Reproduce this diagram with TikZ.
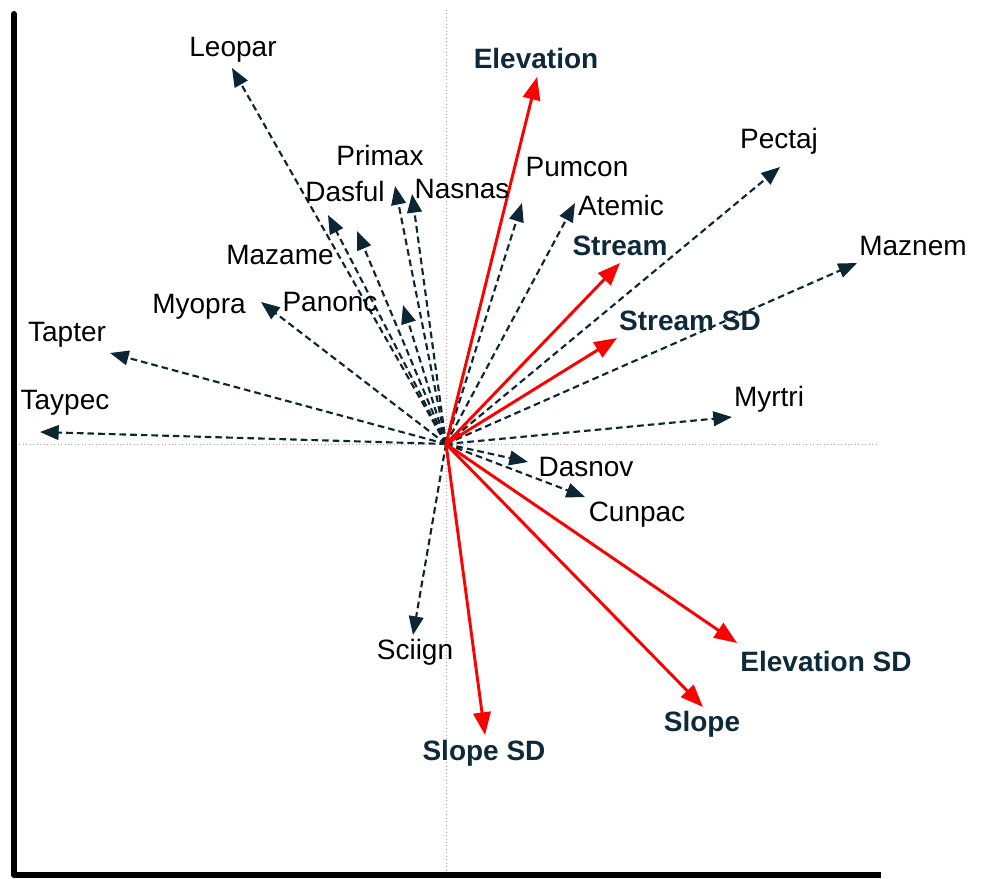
\documentclass[tikz,border=0pt]{standalone}
\usepackage{fontspec}
\setmainfont{Liberation Sans}
\usetikzlibrary{arrows.meta}
\definecolor{navy}{HTML}{0D2633}
\definecolor{lblnavy}{HTML}{0E2A3A}
\definecolor{vred}{HTML}{FF0000}
\tikzset{
  spp/.style={draw=navy, line width=1.6pt, dash pattern=on 5pt off 3pt, -{Triangle[length=14pt,width=11pt]}},
  envv/.style={draw=vred, line width=2.2pt, -{Triangle[length=17pt,width=13pt]}},
  spplbl/.style={font=\fontsize{21}{25}\selectfont, text=black, inner sep=0pt},
  envlbl/.style={font=\fontsize{21}{25}\selectfont\bfseries, text=lblnavy, inner sep=0pt},
  refaxis/.style={draw=gray!70, line width=0.6pt, dotted},
  mainaxis/.style={draw=black, line width=4.5pt, line cap=round}
}
\begin{document}
\begin{tikzpicture}[x=0.75pt,y=-0.75pt]
\useasboundingbox (0,0) rectangle (981,878);
% reference axes
\coordinate (vtop) at (446,10);
\coordinate (vbot) at (446,873);
\coordinate (hl) at (16,444);
\coordinate (hr) at (878,444);
\draw[refaxis] (vtop) -- (vbot);
\draw[refaxis] (hl) -- (hr);
% main axes
\coordinate (atop) at (14,14);
\coordinate (acorner) at (14,875);
\coordinate (aright) at (881,875);
\draw[mainaxis] (atop) -- (acorner);
\draw[draw=black, line width=4.5pt] (acorner) -- (aright);
% origin
\coordinate (O) at (446,444);
% species tips
\coordinate (tLeopar) at (232,68);
\coordinate (tPrimax) at (395,186);
\coordinate (tNasnas) at (412,194);
\coordinate (tDasful) at (328,215);
\coordinate (tMazame) at (357,231);
\coordinate (tPanonc) at (403,305);
\coordinate (tMyopra) at (261,302);
\coordinate (tTapter) at (110,353);
\coordinate (tTaypec) at (40,432);
\coordinate (tPumcon) at (522,203);
\coordinate (tAtemic) at (575,203);
\coordinate (tPectaj) at (780,167);
\coordinate (tMaznem) at (857,263);
\coordinate (tMyrtri) at (732,417);
\coordinate (tDasnov) at (528,462);
\coordinate (tCunpac) at (585,497);
\coordinate (tSciign) at (413,635);
\foreach \s in {Leopar,Primax,Nasnas,Dasful,Mazame,Panonc,Myopra,Tapter,Taypec,Pumcon,Atemic,Pectaj,Maznem,Myrtri,Dasnov,Cunpac,Sciign}
  \draw[spp] (O) -- (t\s);
% environment tips
\coordinate (tElev) at (537,77);
\coordinate (tStream) at (620,263);
\coordinate (tStreamSD) at (617,338);
\coordinate (tElevSD) at (737,643);
\coordinate (tSlope) at (703,707);
\coordinate (tSlopeSD) at (485,735);
\foreach \e in {Elev,Stream,StreamSD,ElevSD,Slope,SlopeSD}
  \draw[envv] (O) -- (t\e);
% species labels
\node[spplbl] (lLeopar) at (233,50) {Leopar};
\node[spplbl] (lPrimax) at (380,155) {Primax};
\node[spplbl] (lPumcon) at (577,167) {Pumcon};
\node[spplbl] (lPectaj) at (779,141) {Pectaj};
\node[spplbl] (lDasful) at (345,191) {Dasful};
\node[spplbl] (lNasnas) at (462,189) {Nasnas};
\node[spplbl] (lAtemic) at (621,205) {Atemic};
\node[spplbl] (lMaznem) at (913,246) {Maznem};
\node[spplbl] (lMazame) at (280,255) {Mazame};
\node[spplbl] (lMyopra) at (199,307) {Myopra};
\node[spplbl] (lPanonc) at (330,302) {Panonc};
\node[spplbl] (lTapter) at (67,335) {Tapter};
\node[spplbl] (lTaypec) at (65,403) {Taypec};
\node[spplbl] (lMyrtri) at (769,399) {Myrtri};
\node[spplbl] (lDasnov) at (586,467) {Dasnov};
\node[spplbl] (lCunpac) at (637,515) {Cunpac};
\node[spplbl] (lSciign) at (415,652) {Sciign};
% environment labels
\node[envlbl] (lElev) at (536,58) {Elevation};
\node[envlbl] (lStream) at (620,246) {Stream};
\node[envlbl] (lStreamSD) at (690,321) {Stream SD};
\node[envlbl] (lElevSD) at (826,661) {Elevation SD};
\node[envlbl] (lSlope) at (702,724) {Slope};
\node[envlbl] (lSlopeSD) at (484,753) {Slope SD};
\end{tikzpicture}
\end{document}
